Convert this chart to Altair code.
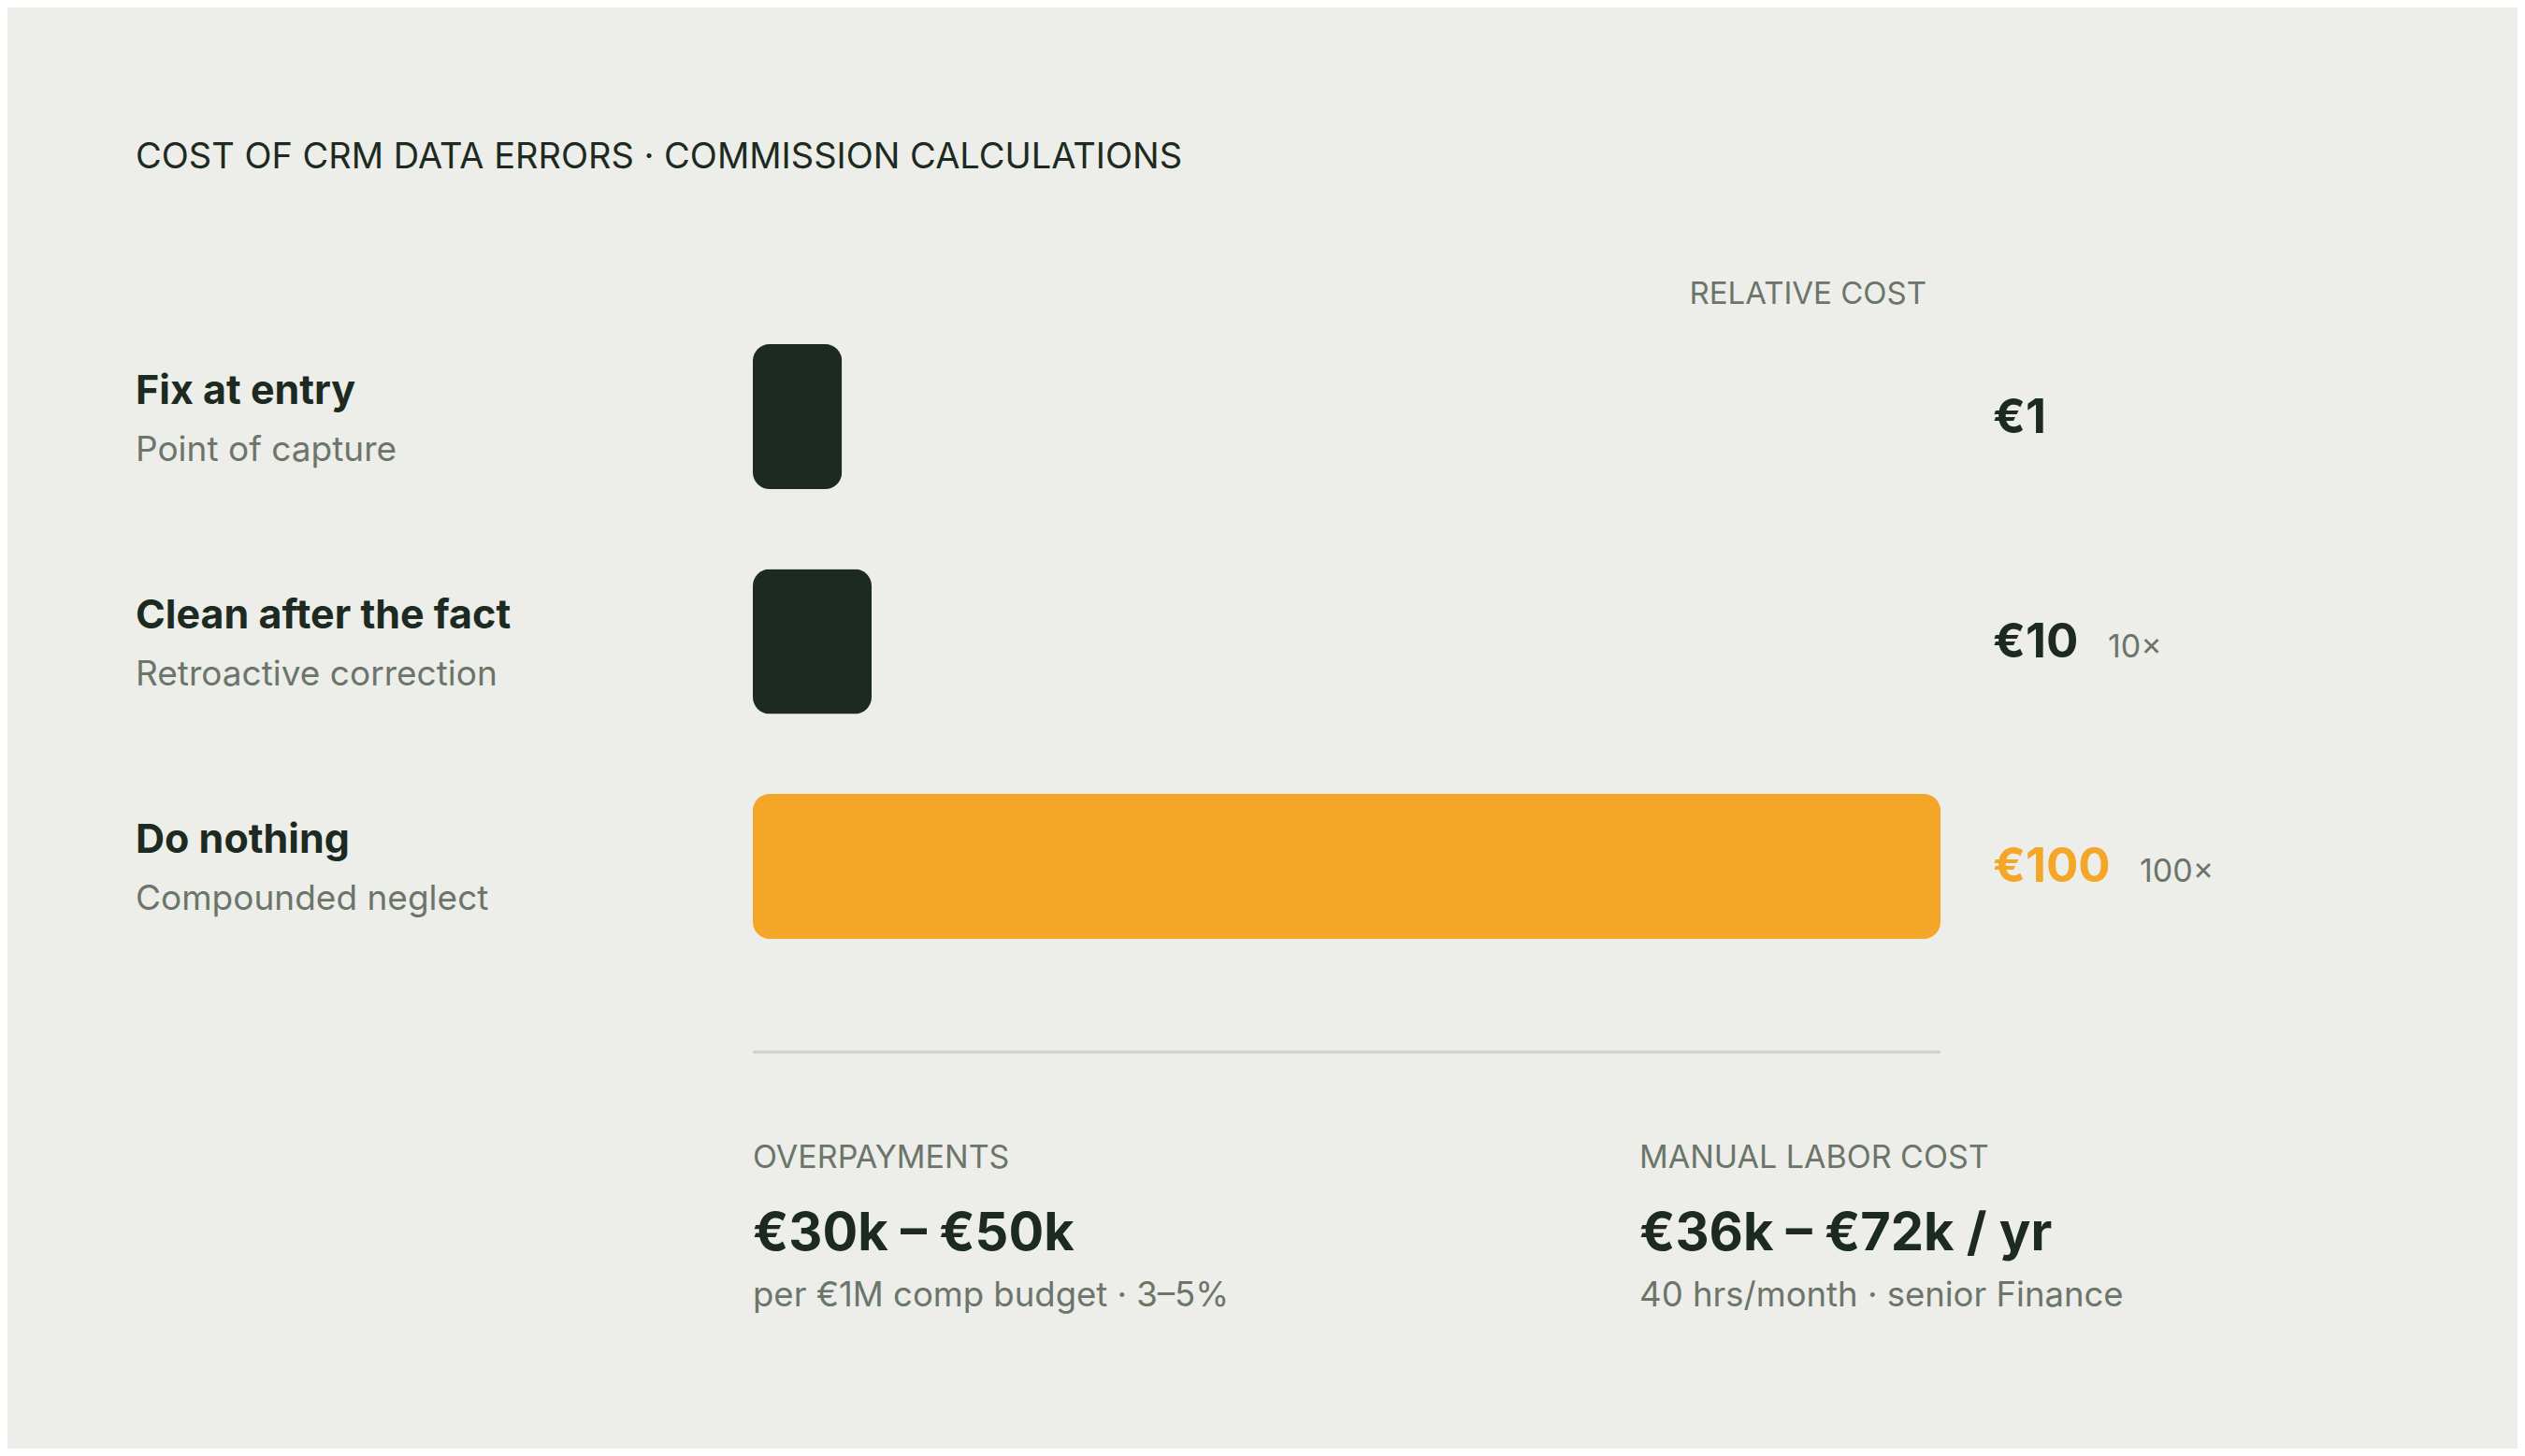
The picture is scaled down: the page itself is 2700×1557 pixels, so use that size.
import altair as alt
import pandas as pd

# ---------------- data ----------------
categories = ["Fix at entry", "Clean after the fact", "Do nothing"]
subtitles = ["Point of capture", "Retroactive correction", "Compounded neglect"]
costs = [1, 10, 100]
cost_labels = ["€1", "€10", "€100"]
multipliers = ["", "10×", "100×"]
tones = ["base", "base", "alert"]

stat_titles = ["OVERPAYMENTS", "MANUAL LABOR COST"]
stat_values = ["€30k – €50k", "€36k – €72k / yr"]
stat_notes = ["per €1M comp budget · 3–5%", "40 hrs/month · senior Finance"]

chart_title = "COST OF CRM DATA ERRORS · COMMISSION CALCULATIONS"
axis_caption = "RELATIVE COST"

# ---------------- style ----------------
BG = "#edeee9"
DARK = "#1c2a21"
ORANGE = "#f4a628"
GRAY = "#6b7569"
RULE = "#cfd1cb"
FONT = "Inter"

W, H = 2684, 1541
LEFT = 137
x_scale = alt.Scale(domain=[0, 100], range=[797, 2067], nice=False, zero=True)
y_scale = alt.Scale(domain=categories, range=[360, 996], paddingInner=0.355, paddingOuter=0)
color_scale = alt.Scale(domain=["base", "alert"], range=[DARK, ORANGE])

df = pd.DataFrame({
    "category": categories,
    "subtitle": subtitles,
    "cost": costs,
    "cost_label": cost_labels,
    "multiplier": multipliers,
    "tone": tones,
})

stats = pd.DataFrame({
    "col": [0, 1],
    "title": stat_titles,
    "value": stat_values,
    "note": stat_notes,
})

base = alt.Chart(df).transform_calculate(
    shown="max(datum.cost, 7.5)",
    end="100",
    mx="100 + (77 + length(datum.cost_label) * 34) / 12.7",
)
Y = alt.Y("category:N", scale=y_scale, axis=None, sort=categories)

bars = base.mark_bar(cornerRadius=18).encode(
    x=alt.X("shown:Q", scale=x_scale, axis=None),
    y=Y,
    color=alt.Color("tone:N", scale=color_scale, legend=None),
)

cat_titles = base.mark_text(
    align="left", baseline="alphabetic", dy=-14, fontSize=43, fontWeight=700,
    font=FONT, color=DARK,
).encode(x=alt.value(LEFT), y=Y, text="category:N")

cat_subs = base.mark_text(
    align="left", baseline="alphabetic", dy=47, fontSize=37, fontWeight=400,
    font=FONT, color=GRAY,
).encode(x=alt.value(LEFT), y=Y, text="subtitle:N")

value_labels = base.mark_text(
    align="left", baseline="alphabetic", dy=17, dx=56, fontSize=51, fontWeight=700,
    font=FONT,
).encode(
    x=alt.X("end:Q", scale=x_scale, axis=None),
    y=Y,
    text="cost_label:N",
    color=alt.Color("tone:N", scale=color_scale, legend=None),
)

# multiplier sits after the value label; offset grows with label length
mult_labels = base.transform_filter("datum.multiplier != ''").mark_text(
    align="left", baseline="alphabetic", dy=17, fontSize=34, fontWeight=400,
    font=FONT, color=GRAY,
).encode(
    x=alt.X("mx:Q", scale=x_scale, axis=None),
    y=Y,
    text="multiplier:N",
)

one = alt.Chart(pd.DataFrame({"t": [chart_title], "c": [axis_caption]})).transform_calculate(
    x0="0", x1="100"
)

title = one.mark_text(
    align="left", baseline="alphabetic", fontSize=38, fontWeight=400,
    font=FONT, color=DARK,
).encode(x=alt.value(LEFT), y=alt.value(172), text="t:N")

caption = one.mark_text(
    align="right", baseline="alphabetic", dx=-15, fontSize=33, fontWeight=400,
    font=FONT, color=GRAY,
).encode(x=alt.X("x1:Q", scale=x_scale, axis=None), y=alt.value(317), text="c:N")

divider = one.mark_rule(stroke=RULE, strokeWidth=3).encode(
    x=alt.X("x0:Q", scale=x_scale, axis=None), x2="x1:Q", y=alt.value(1117)
)

sbase = alt.Chart(stats).transform_calculate(pos="datum.col * 74.65")
SX = alt.X("pos:Q", scale=x_scale, axis=None)

stat_t = sbase.mark_text(
    align="left", baseline="alphabetic", fontSize=34, fontWeight=400,
    font=FONT, color=GRAY,
).encode(x=SX, y=alt.value(1241), text="title:N")

stat_v = sbase.mark_text(
    align="left", baseline="alphabetic", fontSize=56, fontWeight=700,
    font=FONT, color=DARK,
).encode(x=SX, y=alt.value(1329), text="value:N")

stat_n = sbase.mark_text(
    align="left", baseline="alphabetic", fontSize=36.5, fontWeight=400,
    font=FONT, color=GRAY,
).encode(x=SX, y=alt.value(1389), text="note:N")

chart = alt.layer(
    bars, cat_titles, cat_subs, value_labels, mult_labels,
    title, caption, divider, stat_t, stat_v, stat_n,
).properties(
    width=W, height=H,
    autosize=alt.AutoSizeParams(type="none"),
    padding=0,
    background=BG,
).configure_view(stroke=None)

chart.save("out.html", embed_options={"renderer": "svg", "actions": False})
